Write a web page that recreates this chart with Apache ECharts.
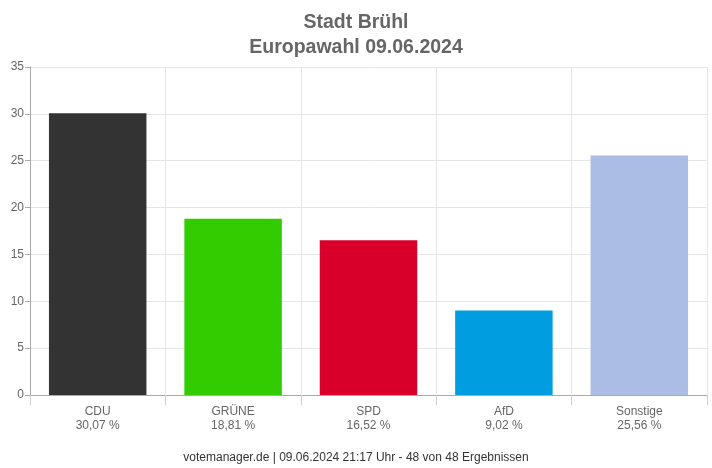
<!DOCTYPE html>
<html><head><meta charset="utf-8">
<script src="https://cdn.jsdelivr.net/npm/echarts@6/dist/echarts.min.js"></script>
<style>html,body{margin:0;padding:0;background:#fff}#c{width:712px;height:468px}</style>
</head><body><div id="c"></div>
<script>
var categories = ["CDU", "GRÜNE", "SPD", "AfD", "Sonstige"];
var values = [30.07, 18.81, 16.52, 9.02, 25.56];
var colors = ["#333333", "#33cc00", "#d8002b", "#009ee0", "#abbde4"];
var titleLines = ["Stadt Brühl", "Europawahl 09.06.2024"];
var footer = "votemanager.de | 09.06.2024 21:17 Uhr - 48 von 48 Ergebnissen";

var chart = echarts.init(document.getElementById('c'), null, {renderer: 'canvas'});
var font = "Liberation Sans, Arial, sans-serif";
chart.setOption({
  animation: false,
  title: [{
    text: titleLines.join("\n"), left: 'center', top: 5,
    textStyle: {fontFamily: font, fontSize: 19.5, fontWeight: 'bold', color: '#666', lineHeight: 25}
  }, {
    text: footer, left: 'center', top: 447,
    textStyle: {fontFamily: font, fontSize: 12, fontWeight: 'normal', color: '#333'}
  }],
  grid: {left: 30, right: 5, top: 67, bottom: 73, containLabel: false},
  xAxis: {
    type: 'category', data: categories, boundaryGap: true,
    axisLine: {lineStyle: {color: '#aaa'}},
    axisTick: {show: true, length: 10, interval: 0, lineStyle: {color: '#ccc'}},
    splitLine: {show: true, interval: 0, lineStyle: {color: '#e6e6e6'}},
    axisLabel: {
      interval: 0, margin: 10, color: '#666', fontFamily: font, fontSize: 12, lineHeight: 14,
      formatter: function (v, i) { return v + "\n" + values[i].toFixed(2).replace('.', ',') + " %"; }
    }
  },
  yAxis: {
    type: 'value', min: 0, max: 35, interval: 5,
    axisLine: {show: true, lineStyle: {color: '#aaa'}},
    axisTick: {show: true, length: 5, lineStyle: {color: '#aaa'}},
    splitLine: {lineStyle: {color: '#e6e6e6'}},
    axisLabel: {color: '#666', fontFamily: font, fontSize: 12, margin: 6}
  },
  series: [{
    type: 'bar', barWidth: '72%',
    data: values.map(function (v, i) { return {value: v, itemStyle: {color: colors[i]}}; })
  }]
});
</script></body></html>
